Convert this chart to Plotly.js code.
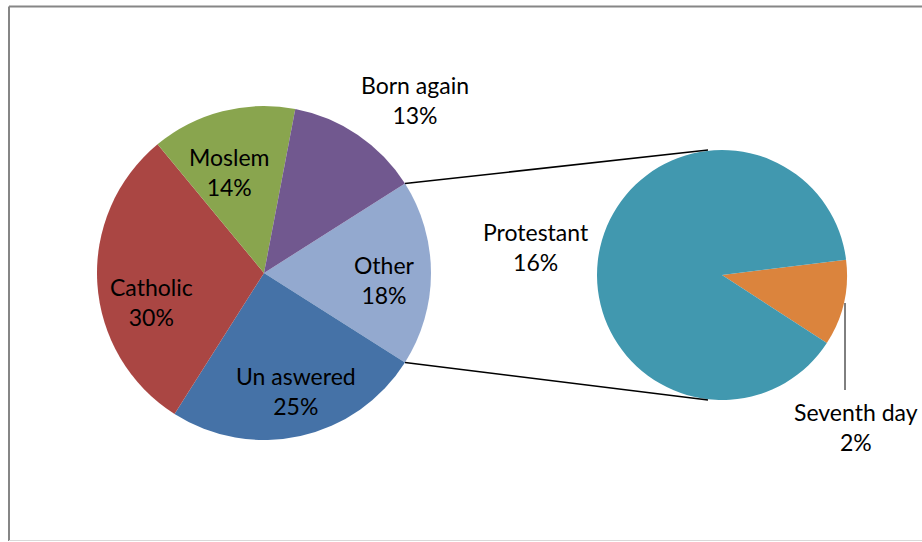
<!DOCTYPE html>
<html>
<head>
<meta charset="utf-8">
<script src="https://cdn.plot.ly/plotly-3.0.1.min.js"></script>
<style>html,body{margin:0;padding:0;background:#fff;}#chart{width:922px;height:542px;}</style>
</head>
<body>
<div id="chart"></div>
<script>
// Main pie data
const mainLabels = ['Other', 'Un aswered', 'Catholic', 'Moslem', 'Born again'];
const mainValues = [18, 25, 30, 14, 13];
const mainColors = ['#93A9CF', '#4572A7', '#AA4643', '#89A54E', '#71588F'];
// Secondary pie (breakdown of "Other")
const subLabels = ['Seventh day', 'Protestant'];
const subValues = [2, 16];
const subColors = ['#DB843D', '#4198AF'];

const W = 922, H = 542;
function px(x) { return x / W; }
function py(y) { return 1 - y / H; }

// Pie geometry (pixels)
const main = {cx: 264, cy: 273, r: 167};
const sub = {cx: 722, cy: 275, r: 125};

const mainTotal = mainValues.reduce((a, b) => a + b, 0);
const otherAngle = mainValues[0] / mainTotal * 360;
const mainRotation = 90 - otherAngle / 2;
const subRotation = 83;

function dom(p) {
  return {x: [px(p.cx - p.r), px(p.cx + p.r)], y: [py(p.cy + p.r), py(p.cy - p.r)]};
}

const traces = [
  {
    type: 'pie', labels: mainLabels, values: mainValues, sort: false,
    direction: 'clockwise', rotation: mainRotation,
    marker: {colors: mainColors, line: {width: 0}},
    textinfo: 'none', hoverinfo: 'skip', domain: dom(main), showlegend: false
  },
  {
    type: 'pie', labels: subLabels, values: subValues, sort: false,
    direction: 'clockwise', rotation: subRotation,
    marker: {colors: subColors, line: {width: 0}},
    textinfo: 'none', hoverinfo: 'skip', domain: dom(sub), showlegend: false
  }
];

// connector lines from edges of "Other" slice to secondary pie
function mainPt(deg) {
  const a = deg * Math.PI / 180;
  return [main.cx + main.r * Math.sin(a), main.cy - main.r * Math.cos(a)];
}
const pTop = mainPt(mainRotation);
const pBot = mainPt(mainRotation + otherAngle);
const sTop = [sub.cx - 14, sub.cy - sub.r];
const sBot = [sub.cx - 14, sub.cy + sub.r];

const lineStyle = {color: '#000000', width: 1.5};
const shapes = [
  {type: 'line', xref: 'paper', yref: 'paper', x0: px(pTop[0]), y0: py(pTop[1]), x1: px(sTop[0]), y1: py(sTop[1]), line: lineStyle},
  {type: 'line', xref: 'paper', yref: 'paper', x0: px(pBot[0]), y0: py(pBot[1]), x1: px(sBot[0]), y1: py(sBot[1]), line: lineStyle},
  // leader line for Seventh day
  {type: 'line', xref: 'paper', yref: 'paper', x0: px(845), y0: py(303), x1: px(845), y1: py(390), line: {color: '#000000', width: 1}},
  // chart frame
  {type: 'line', xref: 'paper', yref: 'paper', x0: px(9), y0: py(6.5), x1: 1.02, y1: py(6.5), line: {color: '#868686', width: 2}},
  {type: 'line', xref: 'paper', yref: 'paper', x0: px(9), y0: py(6.5), x1: px(9), y1: py(541), line: {color: '#868686', width: 2}},
  {type: 'line', xref: 'paper', yref: 'paper', x0: px(9), y0: py(540.5), x1: 1.02, y1: py(540.5), line: {color: '#D9D9D9', width: 1}}
];

const allLabels = mainLabels.concat(subLabels);
const allValues = mainValues.concat(subValues);
const labelPos = {
  'Other': [384, 280],
  'Un aswered': [296, 391],
  'Catholic': [151, 302],
  'Moslem': [229, 172],
  'Born again': [415, 100],
  'Seventh day': [856, 427],
  'Protestant': [536, 247]
};
const annotations = allLabels.map((lab, i) => ({
  xref: 'paper', yref: 'paper', x: px(labelPos[lab][0]), y: py(labelPos[lab][1]),
  xanchor: 'center', yanchor: 'middle', showarrow: false,
  text: lab + '<br>' + allValues[i] + '%',
  font: {family: 'Lato, "Open Sans", sans-serif', size: 23, color: '#000000'}
}));

const layout = {
  width: W, height: H,
  margin: {l: 0, r: 0, t: 0, b: 0},
  paper_bgcolor: '#ffffff', plot_bgcolor: '#ffffff',
  shapes: shapes, annotations: annotations, showlegend: false
};

Plotly.newPlot('chart', traces, layout, {displayModeBar: false, staticPlot: true});
</script>
</body>
</html>
